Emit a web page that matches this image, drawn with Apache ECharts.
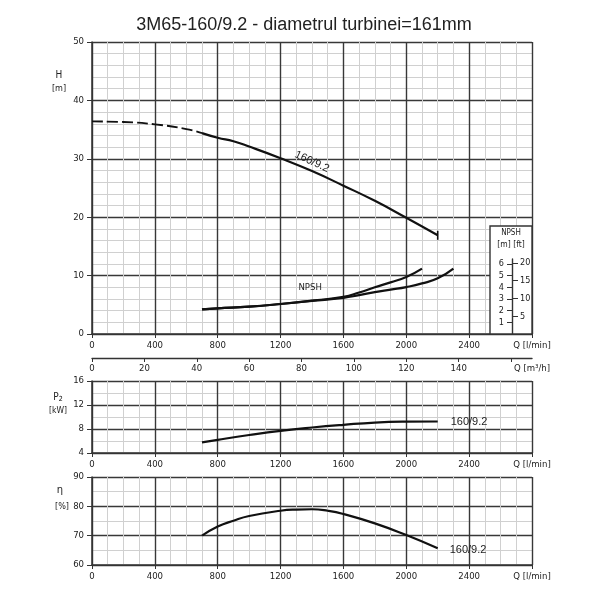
<!DOCTYPE html>
<html><head><meta charset="utf-8">
<script src="https://cdn.jsdelivr.net/npm/echarts@6/dist/echarts.min.js"></script>
<style>html,body{margin:0;padding:0;background:#fff}#c{width:608px;height:608px}</style>
</head><body><div id="c"></div>
<script>
// ---------- data ----------
const chartTitle = '3M65-160/9.2 - diametrul turbinei=161mm';
const curveName = '160/9.2';
const headDashedQ = [0, 200, 400, 600, 700];
const headDashedH = [36.4, 36.3, 35.9, 35.1, 34.4];
const headQ = [700, 800, 900, 1000, 1200, 1400, 1600, 1800, 2000, 2200];
const headH = [34.4, 33.6, 33.0, 32.1, 30.1, 27.9, 25.4, 22.8, 19.9, 16.9];
const npshAQ = [700, 800, 1000, 1200, 1400, 1600, 1700, 1800, 1900, 2000, 2100];
const npshA = [2.11, 2.2, 2.34, 2.57, 2.85, 3.18, 3.55, 4.0, 4.42, 4.88, 5.6];
const npshBQ = [700, 800, 1000, 1200, 1400, 1600, 1700, 1800, 1900, 2000, 2100, 2200, 2300];
const npshB = [2.11, 2.2, 2.34, 2.57, 2.83, 3.1, 3.33, 3.58, 3.8, 4.02, 4.33, 4.77, 5.6];
const powerQ = [700, 800, 1000, 1200, 1400, 1600, 1800, 2000, 2200];
const powerP2 = [5.76, 6.2, 7.0, 7.7, 8.25, 8.7, 9.07, 9.22, 9.25];
const effQ = [700, 800, 900, 1000, 1200, 1300, 1400, 1500, 1600, 1800, 2000, 2200];
const effEta = [70.0, 73.1, 75.1, 76.7, 78.5, 78.9, 79.0, 78.5, 77.4, 74.2, 70.2, 65.7];
const qMaxLmin = 2800;           // l/min
const qMaxM3h = 2800 * 60 / 1000; // m3/h
const npshMaxM = 6.42, ftPerM = 1 / 0.3048;

// ---------- styling ----------
const FONT = '"Liberation Sans Narrow","DejaVu Sans Condensed","Liberation Sans",sans-serif';
const TXT = '#222', LINE = '#111';
const MAJOR = {show: true, lineStyle: {color: '#383838', width: 1.4}};
const MINOR = {show: true, lineStyle: {color: '#d0d0d0', width: 1}};
const zip = (a, b) => a.map((v, i) => [v, b[i]]);

function qAxis(grid) {
  return {type: 'value', gridIndex: grid, min: 0, max: qMaxLmin, interval: 400,
    axisLine: {show: true, onZero: false, lineStyle: {color: '#333', width: 1.5}},
    axisTick: {show: true, length: 4, lineStyle: {color: '#333'}},
    axisLabel: {margin: 7, fontSize: 9.5, fontFamily: FONT, color: TXT,
      formatter: v => v === qMaxLmin ? 'Q [l/min]' : String(v)},
    splitLine: MAJOR, minorTick: {show: false, splitNumber: 4}, minorSplitLine: MINOR};
}
function vAxis(grid, min, max, interval, minor) {
  return {type: 'value', gridIndex: grid, min, max, interval,
    axisLine: {show: true, onZero: false, lineStyle: {color: '#333', width: 1.5}},
    axisTick: {show: true, length: 5, lineStyle: {color: '#333'}},
    axisLabel: {margin: 8, fontSize: 9.5, fontFamily: FONT, color: TXT},
    splitLine: MAJOR, minorTick: {show: false, splitNumber: minor}, minorSplitLine: MINOR};
}
const lineBase = {type: 'line', smooth: true, symbol: 'none', lineStyle: {color: LINE, width: 2.2}, silent: true, animation: false};

const headData = zip(headQ, headH);
const lastH = headData[headData.length - 1];
headData[headData.length - 1] = {value: lastH, symbol: 'rect', symbolSize: [1.6, 9], itemStyle: {color: LINE}};

const chart = echarts.init(document.getElementById('c'), null, {renderer: 'canvas'});
chart.setOption({
  backgroundColor: '#fff',
  animation: false,
  title: {text: chartTitle, left: 'center', top: 11,
    textStyle: {fontSize: 18, fontWeight: 'normal', color: TXT, fontFamily: '"Liberation Sans",Arial,sans-serif'}},
  grid: [
    {left: 92, top: 42, width: 440, height: 292},
    {left: 92, top: 381, width: 440, height: 72},
    {left: 92, top: 477, width: 440, height: 88},
    {left: 512, top: 259, width: 1, height: 75}
  ],
  xAxis: [
    qAxis(0),
    {type: 'value', gridIndex: 0, min: 0, max: qMaxM3h, interval: 20, position: 'bottom', offset: 24,
      axisLine: {show: true, onZero: false, lineStyle: {color: '#333', width: 1.4}},
      axisTick: {show: true, length: 4, lineStyle: {color: '#333'}},
      axisLabel: {margin: 6, fontSize: 9.5, fontFamily: FONT, color: TXT,
        formatter: v => v === 160 ? '{q|Q [m³/h]}' : String(v),
        rich: {q: {fontSize: 9.5, fontFamily: FONT, color: TXT, padding: [0, 0, 0, 42]}}},
      splitLine: {show: false}},
    qAxis(1),
    qAxis(2),
    {type: 'value', gridIndex: 3, min: 0, max: 1, show: false}
  ],
  yAxis: [
    vAxis(0, 0, 50, 10, 5),
    {type: 'value', gridIndex: 0, min: 0, max: 25, show: false},
    vAxis(1, 4, 16, 4, 2),
    vAxis(2, 60, 90, 10, 2),
    {type: 'value', gridIndex: 3, min: 0, max: npshMaxM, interval: 1, position: 'left', z: 200,
      axisLine: {show: true, lineStyle: {color: '#333', width: 1.4}},
      axisTick: {show: true, length: 5, lineStyle: {color: '#333'}},
      axisLabel: {margin: 8, fontSize: 9, fontFamily: FONT, color: TXT, formatter: v => v === 0 ? '' : String(v)},
      splitLine: {show: false}},
    {type: 'value', gridIndex: 3, min: 0, max: npshMaxM * ftPerM, interval: 5, position: 'right', z: 200,
      axisLine: {show: false},
      axisTick: {show: true, length: 5, lineStyle: {color: '#333'}},
      axisLabel: {margin: 7, fontSize: 9, fontFamily: FONT, color: TXT, formatter: v => v === 0 ? '' : String(v)},
      splitLine: {show: false}}
  ],
  graphic: [
    {type: 'rect', z: 100, shape: {x: 490, y: 226, width: 42, height: 108},
      style: {fill: '#fff', stroke: '#333', lineWidth: 1.4}},
    {type: 'text', z: 101, x: 511, y: 233, style: {text: 'NPSH', font: '8px ' + FONT, fill: TXT, textAlign: 'center', textVerticalAlign: 'middle', align: 'center', verticalAlign: 'middle'}},
    {type: 'text', z: 101, x: 511, y: 245, style: {text: '[m] [ft]', font: '8.5px ' + FONT, fill: TXT, textAlign: 'center', textVerticalAlign: 'middle', align: 'center', verticalAlign: 'middle'}},
    {type: 'text', x: 59, y: 75, style: {text: 'H', font: '10px ' + FONT, fill: TXT, textAlign: 'center', textVerticalAlign: 'middle', align: 'center', verticalAlign: 'middle'}},
    {type: 'text', x: 59, y: 89, style: {text: '[m]', font: '9px ' + FONT, fill: TXT, textAlign: 'center', textVerticalAlign: 'middle', align: 'center', verticalAlign: 'middle'}},
    {type: 'text', x: 58, y: 397, style: {text: '{a|P}{b|2}', rich: {a: {fontSize: 10, fontFamily: FONT, fill: TXT, color: TXT}, b: {fontSize: 7, fontFamily: FONT, color: TXT, padding: [4, 0, 0, 0]}}, textAlign: 'center', textVerticalAlign: 'middle', align: 'center', verticalAlign: 'middle'}},
    {type: 'text', x: 58, y: 411, style: {text: '[kW]', font: '8.5px ' + FONT, fill: TXT, textAlign: 'center', textVerticalAlign: 'middle', align: 'center', verticalAlign: 'middle'}},
    {type: 'text', x: 60, y: 490, style: {text: 'η', font: '10px "DejaVu Sans",sans-serif', fill: TXT, textAlign: 'center', textVerticalAlign: 'middle', align: 'center', verticalAlign: 'middle'}},
    {type: 'text', x: 62, y: 507, style: {text: '[%]', font: '9px ' + FONT, fill: TXT, textAlign: 'center', textVerticalAlign: 'middle', align: 'center', verticalAlign: 'middle'}}
  ],
  series: [
    Object.assign({}, lineBase, {xAxisIndex: 0, yAxisIndex: 0, data: zip(headDashedQ, headDashedH),
      lineStyle: {color: LINE, width: 1.8, type: [11, 4]}}),
    Object.assign({}, lineBase, {xAxisIndex: 0, yAxisIndex: 0, data: headData, showSymbol: true,
      markPoint: {symbol: 'circle', symbolSize: 0, silent: true,
        data: [{coord: [1400, 29.5], label: {show: true, formatter: curveName, rotate: -25, position: 'inside',
          fontSize: 11, color: TXT, fontFamily: '"Liberation Sans",sans-serif'}}]}}),
    Object.assign({}, lineBase, {xAxisIndex: 0, yAxisIndex: 1, data: zip(npshAQ, npshA),
      markPoint: {symbol: 'circle', symbolSize: 0, silent: true,
        data: [{coord: [1388, 4.02], label: {show: true, formatter: 'NPSH', position: 'inside',
          fontSize: 9.5, color: TXT, fontFamily: FONT}}]}}),
    Object.assign({}, lineBase, {xAxisIndex: 0, yAxisIndex: 1, data: zip(npshBQ, npshB)}),
    Object.assign({}, lineBase, {xAxisIndex: 2, yAxisIndex: 2, data: zip(powerQ, powerP2),
      endLabel: {show: true, formatter: curveName, distance: 13, fontSize: 11, color: TXT, fontFamily: '"Liberation Sans",sans-serif'}}),
    Object.assign({}, lineBase, {xAxisIndex: 3, yAxisIndex: 3, data: zip(effQ, effEta),
      endLabel: {show: true, formatter: curveName, distance: 12, offset: [0, 2], fontSize: 11, color: TXT, fontFamily: '"Liberation Sans",sans-serif'}})
  ]
});
</script>
</body></html>
